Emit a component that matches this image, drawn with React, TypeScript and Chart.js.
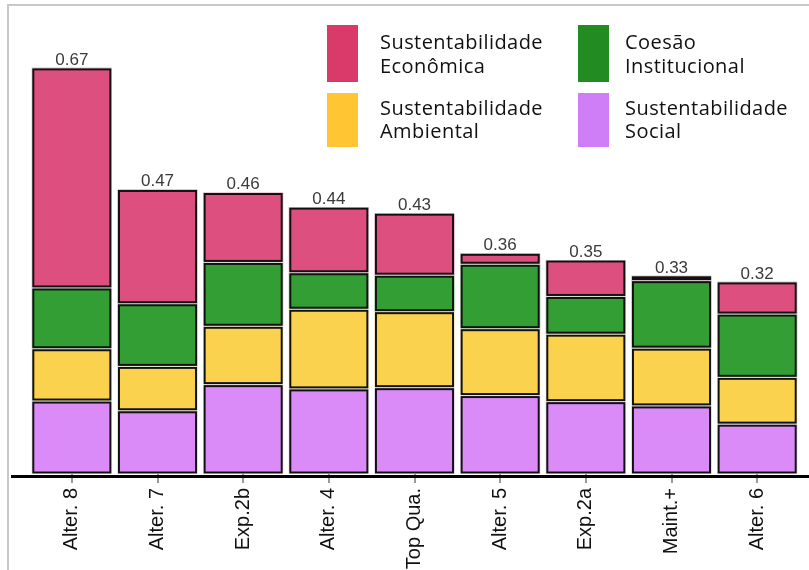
import React, { useEffect, useRef } from "react";
import { Chart, registerables } from "chart.js";

Chart.register(...registerables);

const categories = ["Alter. 8", "Alter. 7", "Exp.2b", "Alter. 4", "Top Qua.", "Alter. 5", "Exp.2a", "Maint.+", "Alter. 6"];
const social = [0.12, 0.104, 0.147, 0.14, 0.142, 0.129, 0.119, 0.112, 0.082];
const ambiental = [0.086, 0.073, 0.096, 0.131, 0.125, 0.11, 0.111, 0.095, 0.077];
const coesao = [0.1, 0.103, 0.105, 0.06, 0.06, 0.106, 0.062, 0.111, 0.104];
const economica = [0.362, 0.188, 0.115, 0.108, 0.102, 0.018, 0.06, 0.008, 0.053];
const totals = ["0.67", "0.47", "0.46", "0.44", "0.43", "0.36", "0.35", "0.33", "0.32"];

const seriesNames = [
  ["Sustentabilidade", "Social"],
  ["Sustentabilidade", "Ambiental"],
  ["Coesão", "Institucional"],
  ["Sustentabilidade", "Econômica"],
];
const barColors = ["#DA8BF7", "#FBD24E", "#339E33", "#DC4F7E"];
const legendColors = ["#CF7EF7", "#FFC533", "#228B22", "#DA3A6A"];

export default function App() {
  const ref = useRef<HTMLCanvasElement | null>(null);

  useEffect(() => {
    document.body.style.margin = "0";
    const canvas = ref.current;
    if (!canvas) return;

    const outlinePlugin = {
      id: "segOutline",
      afterDatasetsDraw(chart: any) {
        const ctx = chart.ctx;
        ctx.save();
        chart.data.datasets.forEach((_: any, di: number) => {
          const meta = chart.getDatasetMeta(di);
          meta.data.forEach((el: any) => {
            const p = el.getProps(["x", "y", "base", "width"], true);
            const left = p.x - p.width / 2;
            const top = Math.min(p.y, p.base);
            const h = Math.abs(p.base - p.y);
            ctx.strokeStyle = "rgba(255,255,255,0.9)";
            ctx.lineWidth = 1;
            ctx.strokeRect(left + 0.5, top + 0.5, p.width - 1, Math.max(h - 1, 0.5));
            ctx.strokeStyle = "#111";
            ctx.lineWidth = 2;
            ctx.strokeRect(left + 1.5, top + 1.5, p.width - 3, Math.max(h - 3, 0.5));
          });
        });
        ctx.restore();
      },
    };

    const totalsPlugin = {
      id: "totals",
      afterDatasetsDraw(chart: any) {
        const ctx = chart.ctx;
        const n = chart.data.datasets.length;
        const topMeta = chart.getDatasetMeta(n - 1);
        ctx.save();
        ctx.font = '17px "Liberation Sans", Arial, sans-serif';
        ctx.fillStyle = "#3a3a3a";
        ctx.textAlign = "center";
        ctx.textBaseline = "alphabetic";
        topMeta.data.forEach((el: any, i: number) => {
          ctx.fillText(totals[i], el.x, el.y - 3);
        });
        ctx.restore();
      },
    };

    const axisPlugin = {
      id: "baseAxis",
      afterDraw(chart: any) {
        const ctx = chart.ctx;
        const y = chart.scales.y.getPixelForValue(0) + 2.5;
        ctx.save();
        ctx.strokeStyle = "#000";
        ctx.lineWidth = 3;
        ctx.beginPath();
        ctx.moveTo(11, y);
        ctx.lineTo(chart.width, y);
        ctx.stroke();
        ctx.restore();
      },
    };

    const legendPlugin = {
      id: "customLegend",
      afterDraw(chart: any) {
        const ctx = chart.ctx;
        const layout = [
          [3, 0, 0],
          [2, 1, 0],
          [1, 0, 1],
          [0, 1, 1],
        ];
        const boxX = [327, 578];
        const textX = [380, 625];
        const boxY = [25, 93];
        const boxH = [57, 54];
        const base = [
          [49, 73],
          [115, 138],
        ];
        ctx.save();
        ctx.font = '20px "Open Sans", "Noto Sans", sans-serif';
        try {
          (ctx as any).letterSpacing = "0.45px";
        } catch (e) {}
        ctx.textAlign = "left";
        ctx.textBaseline = "alphabetic";
        layout.forEach(([di, col, row]) => {
          ctx.fillStyle = legendColors[di];
          ctx.fillRect(boxX[col], boxY[row], 31, boxH[row]);
          ctx.fillStyle = "#111";
          const lines = seriesNames[di];
          lines.forEach((t, li) => ctx.fillText(t, textX[col], base[row][li]));
        });
        ctx.restore();
      },
    };

    const data = [social, ambiental, coesao, economica];
    const chart = new Chart(canvas, {
      type: "bar",
      data: {
        labels: categories,
        datasets: data.map((d, i) => ({
          label: seriesNames[i].join(" "),
          data: d,
          backgroundColor: barColors[i],
          borderWidth: 0,
          inflateAmount: 0,
          barPercentage: 0.935,
          categoryPercentage: 1,
        })),
      },
      options: {
        responsive: false,
        animation: false,
        devicePixelRatio: 1,
        layout: { padding: { left: 29, right: 9, top: 18, bottom: 0 } },
        plugins: {
          legend: { display: false },
          tooltip: { enabled: false },
        },
        scales: {
          x: {
            stacked: true,
            offset: true,
            border: { display: false },
            grid: {
              display: true,
              drawOnChartArea: false,
              drawTicks: true,
              tickLength: 9,
              color: "#9a9a9a",
              lineWidth: 2,
              offset: false,
            },
            ticks: {
              autoSkip: false,
              maxRotation: 90,
              minRotation: 90,
              padding: 5,
              color: "#111",
              font: { family: '"Liberation Sans", Arial, sans-serif', size: 20 },
            },
            afterFit: (scale: any) => {
              scale.height = 96;
            },
          },
          y: {
            stacked: true,
            display: false,
            min: 0,
            max: 0.75,
          },
        },
      },
      plugins: [outlinePlugin, totalsPlugin, axisPlugin, legendPlugin],
    });
    return () => chart.destroy();
  }, []);

  return (
    <div style={{ position: "relative", width: 809, height: 570, background: "#fff" }}>
      <div
        style={{
          position: "absolute",
          left: 7,
          top: 4,
          right: 0,
          bottom: 0,
          borderTop: "2px solid #c8c8c8",
          borderLeft: "2px solid #c8c8c8",
          pointerEvents: "none",
        }}
      />
      <canvas ref={ref} width={809} height={570} style={{ position: "absolute", left: 0, top: 0, display: "block" }} />
    </div>
  );
}
